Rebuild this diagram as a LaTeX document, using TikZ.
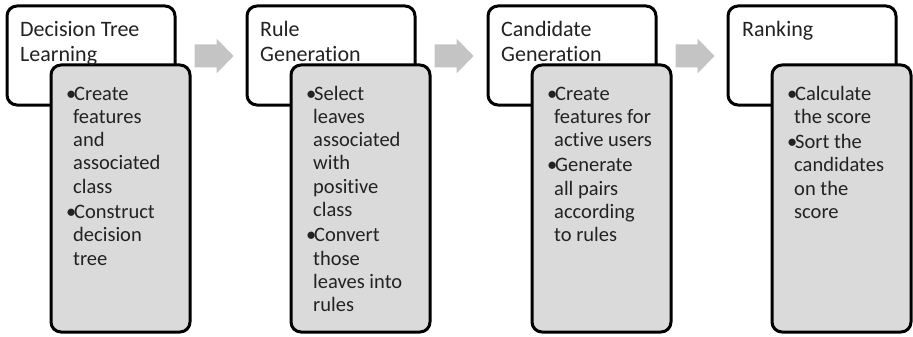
\documentclass[tikz,border=0pt]{standalone}
\usepackage{fontspec}
\setmainfont{Carlito}[Ligatures=NoCommon]

% a column of text whose baseline is that of its first line;
% \\ breaks a line without ending the paragraph, so hanging indents hold
\newcommand\textcolumn[1]{\vtop{\hsize=140pt\raggedright\let\\\newline
  \parindent=0pt\parskip=2pt\relax #1}}
% one bullet item with a hanging indent for its wrapped lines
\newcommand\bulletitem[1]{\par\hangindent=7pt\hangafter=1\noindent\makebox[8pt][l]{\textbullet}#1}

\definecolor{inkc}{HTML}{222222}
\definecolor{panelgray}{HTML}{DADADA}
\definecolor{arrowgray}{HTML}{C4C4C4}

\tikzset{
  titlebox/.style={draw=black, line width=3pt, fill=white, rounded corners=10pt,
    minimum width=168pt, minimum height=99pt, inner sep=0pt},
  detailbox/.style={draw=black, line width=3pt, fill=panelgray, rounded corners=10pt,
    minimum width=139pt, minimum height=267pt, inner sep=0pt},
  titletext/.style={anchor=base west, inner sep=0pt, text=inkc,
    font=\fontsize{22}{24.5}\selectfont},
  bodytext/.style={anchor=base west, inner sep=0pt, text=inkc,
    font=\fontsize{20.5}{23.3}\selectfont},
  blockarrow/.style={fill=arrowgray, draw=none}
}

\begin{document}
\begin{tikzpicture}[x=1pt, y=-1pt]
\useasboundingbox (0,0) rectangle (913,337);

% four stages: title box, detail box on top of it, text
\foreach \i/\L in {1/7, 2/247, 3/488, 4/728} {
  \node[titlebox] (title\i) at (\L+84, 55.5) {};
  \node[detailbox] (detail\i) at (\L+113.5, 198.5) {};
}

\node[titletext] (tt1) at (20, 37) {\textcolumn{Decision Tree\\Learning}};
\node[titletext] (tt2) at (260, 37) {\textcolumn{Rule\\Generation}};
\node[titletext] (tt3) at (501, 37) {\textcolumn{Candidate\\Generation}};
\node[titletext] (tt4) at (742, 37) {\textcolumn{Ranking}};

\node[bodytext] (bt1) at (66, 100) {\textcolumn{%
  \bulletitem{Create\\features\\and\\associated\\class}%
  \bulletitem{Construct\\decision\\tree}}};
\node[bodytext] (bt2) at (306, 100) {\textcolumn{%
  \bulletitem{Select\\leaves\\associated\\with\\positive\\class}%
  \bulletitem{Convert\\those\\leaves into\\rules}}};
\node[bodytext] (bt3) at (547, 100) {\textcolumn{%
  \bulletitem{Create\\features for\\active users}%
  \bulletitem{Generate\\all pairs\\according\\to rules}}};
\node[bodytext] (bt4) at (787, 100) {\textcolumn{%
  \bulletitem{Calculate\\the score}%
  \bulletitem{Sort the\\candidates\\on the\\score}}};

% block arrows between the stages
\foreach \a in {1,2,3} {
  \path (title\a.east) ++(18pt,0) coordinate (as\a);
  \fill[blockarrow] (as\a) ++(0,-11) -- ++(22,0) -- ++(0,-6) -- ++(17,17.5)
    -- ++(-17,17.5) -- ++(0,-6) -- ++(-22,0) -- cycle;
}
\end{tikzpicture}
\end{document}
